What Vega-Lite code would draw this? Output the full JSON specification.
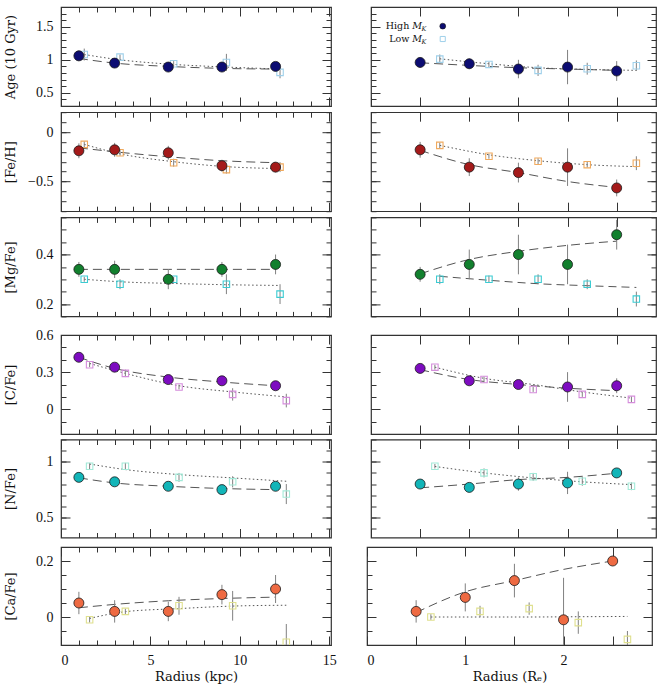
{
  "$schema": "https://vega.github.io/schema/vega-lite/v6.json",
  "background": "white",
  "padding": {"left": 3, "top": 5, "right": 4, "bottom": 4},
  "config": {
    "view": {"stroke": "#333", "strokeWidth": 1.2},
    "axis": {"domain": false, "grid": false, "tickColor": "#333", "tickWidth": 1, "labelFont": "Liberation Serif", "labelFontSize": 14, "labelColor": "#111", "titleFont": "DejaVu Serif", "titleFontSize": 13, "titleFontWeight": "normal", "titleColor": "#111"}
  },
  "datasets": {
    "pts": [
      {"p":"Age","s":"L","g":"H","x":1,"y":1.06,"lo":0.98,"hi":1.14},
      {"p":"Age","s":"L","g":"H","x":3,"y":0.95,"lo":0.91,"hi":0.99},
      {"p":"Age","s":"L","g":"H","x":6,"y":0.89,"lo":0.85,"hi":0.93},
      {"p":"Age","s":"L","g":"H","x":9,"y":0.89,"lo":0.84,"hi":0.94},
      {"p":"Age","s":"L","g":"H","x":12,"y":0.9,"lo":0.85,"hi":0.95},
      {"p":"Age","s":"L","g":"L","x":1.3,"y":1.08,"lo":0.99,"hi":1.17},
      {"p":"Age","s":"L","g":"L","x":3.3,"y":1.04,"lo":1.0,"hi":1.08},
      {"p":"Age","s":"L","g":"L","x":6.3,"y":0.94,"lo":0.9,"hi":0.98},
      {"p":"Age","s":"L","g":"L","x":9.25,"y":0.96,"lo":0.83,"hi":1.09},
      {"p":"Age","s":"L","g":"L","x":12.25,"y":0.81,"lo":0.72,"hi":0.9},
      {"p":"Age","s":"R","g":"H","x":0.5,"y":0.96,"lo":0.88,"hi":1.04},
      {"p":"Age","s":"R","g":"H","x":1,"y":0.94,"lo":0.86,"hi":1.02},
      {"p":"Age","s":"R","g":"H","x":1.5,"y":0.86,"lo":0.72,"hi":1.0},
      {"p":"Age","s":"R","g":"H","x":2,"y":0.89,"lo":0.63,"hi":1.15},
      {"p":"Age","s":"R","g":"H","x":2.5,"y":0.83,"lo":0.68,"hi":0.98},
      {"p":"Age","s":"R","g":"L","x":0.7,"y":1.01,"lo":0.94,"hi":1.08},
      {"p":"Age","s":"R","g":"L","x":1.2,"y":0.93,"lo":0.89,"hi":0.97},
      {"p":"Age","s":"R","g":"L","x":1.7,"y":0.84,"lo":0.755,"hi":0.925},
      {"p":"Age","s":"R","g":"L","x":2.2,"y":0.865,"lo":0.775,"hi":0.955},
      {"p":"Age","s":"R","g":"L","x":2.7,"y":0.91,"lo":0.83,"hi":0.99},

      {"p":"FeH","s":"L","g":"H","x":1,"y":-0.19,"lo":-0.265,"hi":-0.115},
      {"p":"FeH","s":"L","g":"H","x":3,"y":-0.18,"lo":-0.25,"hi":-0.11},
      {"p":"FeH","s":"L","g":"H","x":6,"y":-0.21,"lo":-0.28,"hi":-0.14},
      {"p":"FeH","s":"L","g":"H","x":9,"y":-0.34,"lo":-0.4,"hi":-0.28},
      {"p":"FeH","s":"L","g":"H","x":12,"y":-0.355,"lo":-0.405,"hi":-0.305},
      {"p":"FeH","s":"L","g":"L","x":1.3,"y":-0.125,"lo":-0.155,"hi":-0.095},
      {"p":"FeH","s":"L","g":"L","x":3.3,"y":-0.21,"lo":-0.24,"hi":-0.18},
      {"p":"FeH","s":"L","g":"L","x":6.3,"y":-0.31,"lo":-0.35,"hi":-0.27},
      {"p":"FeH","s":"L","g":"L","x":9.25,"y":-0.38,"lo":-0.42,"hi":-0.34},
      {"p":"FeH","s":"L","g":"L","x":12.25,"y":-0.355,"lo":-0.405,"hi":-0.305},
      {"p":"FeH","s":"R","g":"H","x":0.5,"y":-0.18,"lo":-0.26,"hi":-0.1},
      {"p":"FeH","s":"R","g":"H","x":1,"y":-0.355,"lo":-0.445,"hi":-0.265},
      {"p":"FeH","s":"R","g":"H","x":1.5,"y":-0.41,"lo":-0.51,"hi":-0.31},
      {"p":"FeH","s":"R","g":"H","x":2,"y":-0.355,"lo":-0.545,"hi":-0.165},
      {"p":"FeH","s":"R","g":"H","x":2.5,"y":-0.565,"lo":-0.65,"hi":-0.48},
      {"p":"FeH","s":"R","g":"L","x":0.7,"y":-0.135,"lo":-0.165,"hi":-0.105},
      {"p":"FeH","s":"R","g":"L","x":1.2,"y":-0.245,"lo":-0.27,"hi":-0.22},
      {"p":"FeH","s":"R","g":"L","x":1.7,"y":-0.295,"lo":-0.325,"hi":-0.265},
      {"p":"FeH","s":"R","g":"L","x":2.2,"y":-0.33,"lo":-0.36,"hi":-0.3},
      {"p":"FeH","s":"R","g":"L","x":2.7,"y":-0.315,"lo":-0.385,"hi":-0.245},

      {"p":"MgFe","s":"L","g":"H","x":1,"y":0.34,"lo":0.31,"hi":0.37},
      {"p":"MgFe","s":"L","g":"H","x":3,"y":0.34,"lo":0.305,"hi":0.375},
      {"p":"MgFe","s":"L","g":"H","x":6,"y":0.3,"lo":0.26,"hi":0.34},
      {"p":"MgFe","s":"L","g":"H","x":9,"y":0.34,"lo":0.31,"hi":0.37},
      {"p":"MgFe","s":"L","g":"H","x":12,"y":0.36,"lo":0.32,"hi":0.4},
      {"p":"MgFe","s":"L","g":"L","x":1.3,"y":0.3,"lo":0.29,"hi":0.31},
      {"p":"MgFe","s":"L","g":"L","x":3.3,"y":0.28,"lo":0.26,"hi":0.3},
      {"p":"MgFe","s":"L","g":"L","x":6.3,"y":0.3,"lo":0.29,"hi":0.31},
      {"p":"MgFe","s":"L","g":"L","x":9.25,"y":0.28,"lo":0.24,"hi":0.32},
      {"p":"MgFe","s":"L","g":"L","x":12.25,"y":0.24,"lo":0.2,"hi":0.28},
      {"p":"MgFe","s":"R","g":"H","x":0.5,"y":0.32,"lo":0.29,"hi":0.35},
      {"p":"MgFe","s":"R","g":"H","x":1,"y":0.36,"lo":0.3,"hi":0.42},
      {"p":"MgFe","s":"R","g":"H","x":1.5,"y":0.4,"lo":0.32,"hi":0.48},
      {"p":"MgFe","s":"R","g":"H","x":2,"y":0.36,"lo":0.28,"hi":0.44},
      {"p":"MgFe","s":"R","g":"H","x":2.5,"y":0.48,"lo":0.42,"hi":0.54},
      {"p":"MgFe","s":"R","g":"L","x":0.7,"y":0.3,"lo":0.28,"hi":0.32},
      {"p":"MgFe","s":"R","g":"L","x":1.2,"y":0.3,"lo":0.285,"hi":0.315},
      {"p":"MgFe","s":"R","g":"L","x":1.7,"y":0.3,"lo":0.28,"hi":0.32},
      {"p":"MgFe","s":"R","g":"L","x":2.2,"y":0.28,"lo":0.26,"hi":0.3},
      {"p":"MgFe","s":"R","g":"L","x":2.7,"y":0.22,"lo":0.19,"hi":0.25},

      {"p":"CFe","s":"L","g":"H","x":1,"y":0.42,"lo":0.4,"hi":0.44},
      {"p":"CFe","s":"L","g":"H","x":3,"y":0.34,"lo":0.31,"hi":0.37},
      {"p":"CFe","s":"L","g":"H","x":6,"y":0.24,"lo":0.21,"hi":0.27},
      {"p":"CFe","s":"L","g":"H","x":9,"y":0.23,"lo":0.2,"hi":0.26},
      {"p":"CFe","s":"L","g":"H","x":12,"y":0.19,"lo":0.17,"hi":0.21},
      {"p":"CFe","s":"L","g":"L","x":1.6,"y":0.36,"lo":0.34,"hi":0.38},
      {"p":"CFe","s":"L","g":"L","x":3.6,"y":0.29,"lo":0.26,"hi":0.32},
      {"p":"CFe","s":"L","g":"L","x":6.6,"y":0.18,"lo":0.16,"hi":0.2},
      {"p":"CFe","s":"L","g":"L","x":9.6,"y":0.12,"lo":0.07,"hi":0.17},
      {"p":"CFe","s":"L","g":"L","x":12.6,"y":0.07,"lo":0.015,"hi":0.125},
      {"p":"CFe","s":"R","g":"H","x":0.5,"y":0.33,"lo":0.31,"hi":0.35},
      {"p":"CFe","s":"R","g":"H","x":1,"y":0.23,"lo":0.21,"hi":0.25},
      {"p":"CFe","s":"R","g":"H","x":1.5,"y":0.2,"lo":0.18,"hi":0.22},
      {"p":"CFe","s":"R","g":"H","x":2,"y":0.18,"lo":0.06,"hi":0.3},
      {"p":"CFe","s":"R","g":"H","x":2.5,"y":0.19,"lo":0.13,"hi":0.25},
      {"p":"CFe","s":"R","g":"L","x":0.65,"y":0.34,"lo":0.32,"hi":0.36},
      {"p":"CFe","s":"R","g":"L","x":1.15,"y":0.24,"lo":0.215,"hi":0.265},
      {"p":"CFe","s":"R","g":"L","x":1.65,"y":0.16,"lo":0.14,"hi":0.18},
      {"p":"CFe","s":"R","g":"L","x":2.15,"y":0.12,"lo":0.1,"hi":0.14},
      {"p":"CFe","s":"R","g":"L","x":2.65,"y":0.08,"lo":0.055,"hi":0.105},

      {"p":"NFe","s":"L","g":"H","x":1,"y":0.86,"lo":0.83,"hi":0.89},
      {"p":"NFe","s":"L","g":"H","x":3,"y":0.82,"lo":0.8,"hi":0.84},
      {"p":"NFe","s":"L","g":"H","x":6,"y":0.78,"lo":0.75,"hi":0.81},
      {"p":"NFe","s":"L","g":"H","x":9,"y":0.75,"lo":0.73,"hi":0.77},
      {"p":"NFe","s":"L","g":"H","x":12,"y":0.78,"lo":0.75,"hi":0.81},
      {"p":"NFe","s":"L","g":"L","x":1.6,"y":0.96,"lo":0.93,"hi":0.99},
      {"p":"NFe","s":"L","g":"L","x":3.6,"y":0.96,"lo":0.93,"hi":0.99},
      {"p":"NFe","s":"L","g":"L","x":6.6,"y":0.86,"lo":0.82,"hi":0.9},
      {"p":"NFe","s":"L","g":"L","x":9.6,"y":0.82,"lo":0.77,"hi":0.87},
      {"p":"NFe","s":"L","g":"L","x":12.6,"y":0.71,"lo":0.62,"hi":0.8},
      {"p":"NFe","s":"R","g":"H","x":0.5,"y":0.8,"lo":0.78,"hi":0.82},
      {"p":"NFe","s":"R","g":"H","x":1,"y":0.77,"lo":0.75,"hi":0.79},
      {"p":"NFe","s":"R","g":"H","x":1.5,"y":0.8,"lo":0.74,"hi":0.86},
      {"p":"NFe","s":"R","g":"H","x":2,"y":0.81,"lo":0.71,"hi":0.91},
      {"p":"NFe","s":"R","g":"H","x":2.5,"y":0.9,"lo":0.88,"hi":0.92},
      {"p":"NFe","s":"R","g":"L","x":0.65,"y":0.96,"lo":0.94,"hi":0.98},
      {"p":"NFe","s":"R","g":"L","x":1.15,"y":0.9,"lo":0.86,"hi":0.94},
      {"p":"NFe","s":"R","g":"L","x":1.65,"y":0.865,"lo":0.83,"hi":0.9},
      {"p":"NFe","s":"R","g":"L","x":2.15,"y":0.825,"lo":0.785,"hi":0.865},
      {"p":"NFe","s":"R","g":"L","x":2.65,"y":0.78,"lo":0.745,"hi":0.815},

      {"p":"CaFe","s":"L","g":"H","x":1,"y":0.05,"lo":0.01,"hi":0.09},
      {"p":"CaFe","s":"L","g":"H","x":3,"y":0.02,"lo":-0.02,"hi":0.06},
      {"p":"CaFe","s":"L","g":"H","x":6,"y":0.02,"lo":-0.015,"hi":0.055},
      {"p":"CaFe","s":"L","g":"H","x":9,"y":0.08,"lo":0.045,"hi":0.115},
      {"p":"CaFe","s":"L","g":"H","x":12,"y":0.1,"lo":0.05,"hi":0.15},
      {"p":"CaFe","s":"L","g":"L","x":1.6,"y":-0.01,"lo":-0.02,"hi":0.0},
      {"p":"CaFe","s":"L","g":"L","x":3.6,"y":0.02,"lo":0.01,"hi":0.03},
      {"p":"CaFe","s":"L","g":"L","x":6.6,"y":0.04,"lo":0.008,"hi":0.072},
      {"p":"CaFe","s":"L","g":"L","x":9.6,"y":0.04,"lo":-0.013,"hi":0.093},
      {"p":"CaFe","s":"L","g":"L","x":12.6,"y":-0.09,"lo":-0.155,"hi":-0.025},
      {"p":"CaFe","s":"R","g":"H","x":0.5,"y":0.02,"lo":-0.02,"hi":0.06},
      {"p":"CaFe","s":"R","g":"H","x":1,"y":0.07,"lo":0.02,"hi":0.12},
      {"p":"CaFe","s":"R","g":"H","x":1.5,"y":0.13,"lo":0.07,"hi":0.19},
      {"p":"CaFe","s":"R","g":"H","x":2,"y":-0.01,"lo":-0.16,"hi":0.14},
      {"p":"CaFe","s":"R","g":"H","x":2.5,"y":0.2,"lo":0.185,"hi":0.215},
      {"p":"CaFe","s":"R","g":"L","x":0.65,"y":0.0,"lo":-0.01,"hi":0.01},
      {"p":"CaFe","s":"R","g":"L","x":1.15,"y":0.02,"lo":0.0,"hi":0.04},
      {"p":"CaFe","s":"R","g":"L","x":1.65,"y":0.03,"lo":0.008,"hi":0.052},
      {"p":"CaFe","s":"R","g":"L","x":2.15,"y":-0.02,"lo":-0.06,"hi":0.02},
      {"p":"CaFe","s":"R","g":"L","x":2.65,"y":-0.08,"lo":-0.11,"hi":-0.05}
    ],
    "fits": [
      {"p":"Age","s":"L","g":"H","x":1,"y":1.02},{"p":"Age","s":"L","g":"H","x":3,"y":0.95},{"p":"Age","s":"L","g":"H","x":6,"y":0.9},{"p":"Age","s":"L","g":"H","x":9,"y":0.87},{"p":"Age","s":"L","g":"H","x":12,"y":0.86},
      {"p":"Age","s":"L","g":"L","x":1.3,"y":1.08},{"p":"Age","s":"L","g":"L","x":3.3,"y":1.0},{"p":"Age","s":"L","g":"L","x":6.3,"y":0.93},{"p":"Age","s":"L","g":"L","x":9.25,"y":0.89},{"p":"Age","s":"L","g":"L","x":12.25,"y":0.86},
      {"p":"Age","s":"R","g":"H","x":0.5,"y":0.955},{"p":"Age","s":"R","g":"H","x":1,"y":0.915},{"p":"Age","s":"R","g":"H","x":1.5,"y":0.88},{"p":"Age","s":"R","g":"H","x":2,"y":0.86},{"p":"Age","s":"R","g":"H","x":2.5,"y":0.84},
      {"p":"Age","s":"R","g":"L","x":0.7,"y":1.015},{"p":"Age","s":"R","g":"L","x":1.2,"y":0.94},{"p":"Age","s":"R","g":"L","x":1.7,"y":0.88},{"p":"Age","s":"R","g":"L","x":2.2,"y":0.855},{"p":"Age","s":"R","g":"L","x":2.7,"y":0.84},
      {"p":"FeH","s":"L","g":"H","x":1,"y":-0.16},{"p":"FeH","s":"L","g":"H","x":3,"y":-0.2},{"p":"FeH","s":"L","g":"H","x":6,"y":-0.25},{"p":"FeH","s":"L","g":"H","x":9,"y":-0.29},{"p":"FeH","s":"L","g":"H","x":12,"y":-0.31},
      {"p":"FeH","s":"L","g":"L","x":1.3,"y":-0.125},{"p":"FeH","s":"L","g":"L","x":3.3,"y":-0.22},{"p":"FeH","s":"L","g":"L","x":6.3,"y":-0.3},{"p":"FeH","s":"L","g":"L","x":9.25,"y":-0.35},{"p":"FeH","s":"L","g":"L","x":12.25,"y":-0.37},
      {"p":"FeH","s":"R","g":"H","x":0.5,"y":-0.185},{"p":"FeH","s":"R","g":"H","x":1,"y":-0.33},{"p":"FeH","s":"R","g":"H","x":1.5,"y":-0.41},{"p":"FeH","s":"R","g":"H","x":2,"y":-0.5},{"p":"FeH","s":"R","g":"H","x":2.5,"y":-0.56},
      {"p":"FeH","s":"R","g":"L","x":0.7,"y":-0.135},{"p":"FeH","s":"R","g":"L","x":1.2,"y":-0.23},{"p":"FeH","s":"R","g":"L","x":1.7,"y":-0.29},{"p":"FeH","s":"R","g":"L","x":2.2,"y":-0.33},{"p":"FeH","s":"R","g":"L","x":2.7,"y":-0.35},
      {"p":"MgFe","s":"L","g":"H","x":1,"y":0.34},{"p":"MgFe","s":"L","g":"H","x":3,"y":0.34},{"p":"MgFe","s":"L","g":"H","x":6,"y":0.34},{"p":"MgFe","s":"L","g":"H","x":9,"y":0.34},{"p":"MgFe","s":"L","g":"H","x":12,"y":0.34},
      {"p":"MgFe","s":"L","g":"L","x":1.3,"y":0.3},{"p":"MgFe","s":"L","g":"L","x":3.3,"y":0.29},{"p":"MgFe","s":"L","g":"L","x":6.3,"y":0.283},{"p":"MgFe","s":"L","g":"L","x":9.25,"y":0.278},{"p":"MgFe","s":"L","g":"L","x":12.25,"y":0.275},
      {"p":"MgFe","s":"R","g":"H","x":0.5,"y":0.322},{"p":"MgFe","s":"R","g":"H","x":1,"y":0.38},{"p":"MgFe","s":"R","g":"H","x":1.5,"y":0.413},{"p":"MgFe","s":"R","g":"H","x":2,"y":0.437},{"p":"MgFe","s":"R","g":"H","x":2.5,"y":0.454},
      {"p":"MgFe","s":"R","g":"L","x":0.7,"y":0.312},{"p":"MgFe","s":"R","g":"L","x":1.2,"y":0.296},{"p":"MgFe","s":"R","g":"L","x":1.7,"y":0.282},{"p":"MgFe","s":"R","g":"L","x":2.2,"y":0.274},{"p":"MgFe","s":"R","g":"L","x":2.7,"y":0.267},
      {"p":"CFe","s":"L","g":"H","x":1,"y":0.42},{"p":"CFe","s":"L","g":"H","x":3,"y":0.33},{"p":"CFe","s":"L","g":"H","x":6,"y":0.26},{"p":"CFe","s":"L","g":"H","x":9,"y":0.22},{"p":"CFe","s":"L","g":"H","x":12,"y":0.19},
      {"p":"CFe","s":"L","g":"L","x":1.6,"y":0.37},{"p":"CFe","s":"L","g":"L","x":3.6,"y":0.29},{"p":"CFe","s":"L","g":"L","x":6.6,"y":0.19},{"p":"CFe","s":"L","g":"L","x":9.6,"y":0.14},{"p":"CFe","s":"L","g":"L","x":12.6,"y":0.1},
      {"p":"CFe","s":"R","g":"H","x":0.5,"y":0.32},{"p":"CFe","s":"R","g":"H","x":1,"y":0.24},{"p":"CFe","s":"R","g":"H","x":1.5,"y":0.2},{"p":"CFe","s":"R","g":"H","x":2,"y":0.17},{"p":"CFe","s":"R","g":"H","x":2.5,"y":0.15},
      {"p":"CFe","s":"R","g":"L","x":0.65,"y":0.34},{"p":"CFe","s":"R","g":"L","x":1.15,"y":0.25},{"p":"CFe","s":"R","g":"L","x":1.65,"y":0.2},{"p":"CFe","s":"R","g":"L","x":2.15,"y":0.14},{"p":"CFe","s":"R","g":"L","x":2.65,"y":0.09},
      {"p":"NFe","s":"L","g":"H","x":1,"y":0.856},{"p":"NFe","s":"L","g":"H","x":3,"y":0.81},{"p":"NFe","s":"L","g":"H","x":6,"y":0.78},{"p":"NFe","s":"L","g":"H","x":9,"y":0.76},{"p":"NFe","s":"L","g":"H","x":12,"y":0.75},
      {"p":"NFe","s":"L","g":"L","x":1.6,"y":0.98},{"p":"NFe","s":"L","g":"L","x":3.6,"y":0.93},{"p":"NFe","s":"L","g":"L","x":6.6,"y":0.885},{"p":"NFe","s":"L","g":"L","x":9.6,"y":0.855},{"p":"NFe","s":"L","g":"L","x":12.6,"y":0.825},
      {"p":"NFe","s":"R","g":"H","x":0.5,"y":0.766},{"p":"NFe","s":"R","g":"H","x":1,"y":0.8},{"p":"NFe","s":"R","g":"H","x":1.5,"y":0.84},{"p":"NFe","s":"R","g":"H","x":2,"y":0.86},{"p":"NFe","s":"R","g":"H","x":2.5,"y":0.897},
      {"p":"NFe","s":"R","g":"L","x":0.65,"y":0.958},{"p":"NFe","s":"R","g":"L","x":1.15,"y":0.9},{"p":"NFe","s":"R","g":"L","x":1.65,"y":0.855},{"p":"NFe","s":"R","g":"L","x":2.15,"y":0.82},{"p":"NFe","s":"R","g":"L","x":2.65,"y":0.795},
      {"p":"CaFe","s":"L","g":"H","x":1,"y":0.033},{"p":"CaFe","s":"L","g":"H","x":3,"y":0.045},{"p":"CaFe","s":"L","g":"H","x":6,"y":0.058},{"p":"CaFe","s":"L","g":"H","x":9,"y":0.066},{"p":"CaFe","s":"L","g":"H","x":12,"y":0.071},
      {"p":"CaFe","s":"L","g":"L","x":1.6,"y":-0.005},{"p":"CaFe","s":"L","g":"L","x":3.6,"y":0.019},{"p":"CaFe","s":"L","g":"L","x":6.6,"y":0.03},{"p":"CaFe","s":"L","g":"L","x":9.6,"y":0.039},{"p":"CaFe","s":"L","g":"L","x":12.6,"y":0.042},
      {"p":"CaFe","s":"R","g":"H","x":0.5,"y":0.016},{"p":"CaFe","s":"R","g":"H","x":1,"y":0.09},{"p":"CaFe","s":"R","g":"H","x":1.5,"y":0.13},{"p":"CaFe","s":"R","g":"H","x":2,"y":0.17},{"p":"CaFe","s":"R","g":"H","x":2.5,"y":0.2},
      {"p":"CaFe","s":"R","g":"L","x":0.65,"y":0.0},{"p":"CaFe","s":"R","g":"L","x":1.15,"y":0.0},{"p":"CaFe","s":"R","g":"L","x":1.65,"y":0.0},{"p":"CaFe","s":"R","g":"L","x":2.15,"y":0.001},{"p":"CaFe","s":"R","g":"L","x":2.65,"y":0.002}
    ]
  },
  "spacing": 9,
  "vconcat": [
    {
      "spacing": 2.2,
      "vconcat": [
        {
          "spacing": 36,
          "hconcat": [
            {
              "width": 270, "height": 99,
              "layer": [
                {"data": {"name": "fits"}, "transform": [{"filter": "datum.p=='Age'&&datum.s=='L'&&datum.g=='H'"}],
                 "mark": {"type": "line", "color": "#555", "strokeWidth": 1, "strokeDash": [9, 5], "interpolate": "monotone", "clip": true},
                 "encoding": {"x": {"field": "x", "type": "quantitative", "scale": {"domain": [0, 15.1], "nice": false}, "axis": {"orient": "bottom", "values": [0,1,2,3,4,5,6,7,8,9,10,11,12,13,14,15], "tickSize": -5, "labels": false, "title": null}},
                              "y": {"field": "y", "type": "quantitative", "scale": {"domain": [0.3, 1.8], "nice": false}, "axis": {"orient": "left", "values": [0.3,0.4,0.5,0.6,0.7,0.8,0.9,1,1.1,1.2,1.3,1.4,1.5,1.6,1.7,1.8], "tickSize": -5, "labels": false, "title": null}}}},
                {"data": {"name": "fits"}, "transform": [{"filter": "datum.p=='Age'&&datum.s=='L'&&datum.g=='L'"}],
                 "mark": {"type": "line", "color": "#555", "strokeWidth": 1, "strokeDash": [1.5, 2.5], "interpolate": "monotone", "clip": true},
                 "encoding": {"x": {"field": "x", "type": "quantitative", "scale": {"domain": [0, 15.1], "nice": false}, "axis": {"orient": "top", "values": [0,1,2,3,4,5,6,7,8,9,10,11,12,13,14,15], "tickSize": -5, "labels": false, "title": null}},
                              "y": {"field": "y", "type": "quantitative", "scale": {"domain": [0.3, 1.8], "nice": false}, "axis": {"orient": "right", "values": [0.3,0.4,0.5,0.6,0.7,0.8,0.9,1,1.1,1.2,1.3,1.4,1.5,1.6,1.7,1.8], "tickSize": -5, "labels": false, "title": null}}}},
                {"data": {"name": "pts"}, "transform": [{"filter": "datum.p=='Age'&&datum.s=='L'"}],
                 "mark": {"type": "rule", "color": "#808080", "strokeWidth": 1, "clip": true},
                 "encoding": {"x": {"field": "x", "type": "quantitative", "scale": {"domain": [0, 15.1], "nice": false}, "axis": {"orient": "top", "values": [0,5,10,15], "tickSize": -9, "labels": false, "title": null}},
                              "y": {"field": "lo", "type": "quantitative", "scale": {"domain": [0.3, 1.8], "nice": false}, "axis": {"orient": "right", "values": [0.5,1,1.5], "tickSize": -9, "labels": false, "title": null}},
                              "y2": {"field": "hi"}}},
                {"data": {"name": "pts"}, "transform": [{"filter": "datum.p=='Age'&&datum.s=='L'&&datum.g=='L'"}],
                 "mark": {"type": "square", "filled": false, "color": "#9fd0ea", "size": 42, "strokeWidth": 1.1, "opacity": 1, "clip": true},
                 "encoding": {"x": {"field": "x", "type": "quantitative", "scale": {"domain": [0, 15.1], "nice": false}, "axis": {"orient": "bottom", "values": [0,5,10,15], "tickSize": -9, "labels": false, "title": null}},
                              "y": {"field": "y", "type": "quantitative", "scale": {"domain": [0.3, 1.8], "nice": false}, "axis": {"orient": "left", "values": [0.5,1,1.5], "tickSize": -9, "labels": false, "title": null}}}},
                {"data": {"name": "pts"}, "transform": [{"filter": "datum.p=='Age'&&datum.s=='L'&&datum.g=='H'"}],
                 "mark": {"type": "circle", "fill": "#0c0c72", "stroke": "#1a1a1a", "strokeWidth": 0.8, "size": 100, "opacity": 1, "clip": true},
                 "encoding": {"x": {"field": "x", "type": "quantitative", "scale": {"domain": [0, 15.1], "nice": false}, "axis": null},
                              "y": {"field": "y", "type": "quantitative", "scale": {"domain": [0.3, 1.8], "nice": false}, "axis": {"orient": "left", "values": [0.5,1,1.5], "ticks": false, "labelPadding": 8, "format": "~g", "title": "Age (10 Gyr)", "titlePadding": 8, "minExtent": 36, "maxExtent": 36}}}}
              ],
              "resolve": {"axis": {"x": "independent", "y": "independent"}}
            },
            {
              "width": 285, "height": 99,
              "layer": [
                {"data": {"name": "fits"}, "transform": [{"filter": "datum.p=='Age'&&datum.s=='R'&&datum.g=='H'"}],
                 "mark": {"type": "line", "color": "#555", "strokeWidth": 1, "strokeDash": [9, 5], "interpolate": "monotone", "clip": true},
                 "encoding": {"x": {"field": "x", "type": "quantitative", "scale": {"domain": [0, 2.9], "nice": false}, "axis": null},
                              "y": {"field": "y", "type": "quantitative", "scale": {"domain": [0.3, 1.8], "nice": false}, "axis": {"orient": "left", "values": [0.3,0.4,0.5,0.6,0.7,0.8,0.9,1,1.1,1.2,1.3,1.4,1.5,1.6,1.7,1.8], "tickSize": -5, "labels": false, "title": null}}}},
                {"data": {"name": "fits"}, "transform": [{"filter": "datum.p=='Age'&&datum.s=='R'&&datum.g=='L'"}],
                 "mark": {"type": "line", "color": "#555", "strokeWidth": 1, "strokeDash": [1.5, 2.5], "interpolate": "monotone", "clip": true},
                 "encoding": {"x": {"field": "x", "type": "quantitative", "scale": {"domain": [0, 2.9], "nice": false}, "axis": null},
                              "y": {"field": "y", "type": "quantitative", "scale": {"domain": [0.3, 1.8], "nice": false}, "axis": {"orient": "right", "values": [0.3,0.4,0.5,0.6,0.7,0.8,0.9,1,1.1,1.2,1.3,1.4,1.5,1.6,1.7,1.8], "tickSize": -5, "labels": false, "title": null}}}},
                {"data": {"name": "pts"}, "transform": [{"filter": "datum.p=='Age'&&datum.s=='R'"}],
                 "mark": {"type": "rule", "color": "#808080", "strokeWidth": 1, "clip": true},
                 "encoding": {"x": {"field": "x", "type": "quantitative", "scale": {"domain": [0, 2.9], "nice": false}, "axis": {"orient": "top", "values": [0,0.5,1,1.5,2,2.5], "tickSize": -9, "labels": false, "title": null}},
                              "y": {"field": "lo", "type": "quantitative", "scale": {"domain": [0.3, 1.8], "nice": false}, "axis": {"orient": "right", "values": [0.5,1,1.5], "tickSize": -9, "labels": false, "title": null}},
                              "y2": {"field": "hi"}}},
                {"data": {"name": "pts"}, "transform": [{"filter": "datum.p=='Age'&&datum.s=='R'&&datum.g=='L'"}],
                 "mark": {"type": "square", "filled": false, "color": "#9fd0ea", "size": 42, "strokeWidth": 1.1, "opacity": 1, "clip": true},
                 "encoding": {"x": {"field": "x", "type": "quantitative", "scale": {"domain": [0, 2.9], "nice": false}, "axis": {"orient": "bottom", "values": [0,0.5,1,1.5,2,2.5], "tickSize": -9, "labels": false, "title": null}},
                              "y": {"field": "y", "type": "quantitative", "scale": {"domain": [0.3, 1.8], "nice": false}, "axis": {"orient": "left", "values": [0.5,1,1.5], "tickSize": -9, "labels": false, "title": null}}}},
                {"data": {"name": "pts"}, "transform": [{"filter": "datum.p=='Age'&&datum.s=='R'&&datum.g=='H'"}],
                 "mark": {"type": "circle", "fill": "#0c0c72", "stroke": "#1a1a1a", "strokeWidth": 0.8, "size": 100, "opacity": 1, "clip": true},
                 "encoding": {"x": {"field": "x", "type": "quantitative", "scale": {"domain": [0, 2.9], "nice": false}, "axis": null},
                              "y": {"field": "y", "type": "quantitative", "scale": {"domain": [0.3, 1.8], "nice": false}, "axis": null}}},
                {"data": {"values": [{}]},
                 "mark": {"type": "text", "text": "High", "align": "right", "baseline": "middle", "font": "DejaVu Serif", "fontSize": 9.5, "color": "#111"},
                 "encoding": {"x": {"datum": 0.39, "type": "quantitative", "scale": {"domain": [0, 2.9], "nice": false}, "axis": null},
                              "y": {"datum": 1.51, "type": "quantitative", "scale": {"domain": [0.3, 1.8], "nice": false}, "axis": null}}},
                {"data": {"values": [{}]},
                 "mark": {"type": "text", "text": "M", "align": "left", "baseline": "middle", "font": "DejaVu Serif", "fontStyle": "italic", "fontSize": 9.5, "color": "#111"},
                 "encoding": {"x": {"datum": 0.42, "type": "quantitative", "scale": {"domain": [0, 2.9], "nice": false}, "axis": null},
                              "y": {"datum": 1.51, "type": "quantitative", "scale": {"domain": [0.3, 1.8], "nice": false}, "axis": null}}},
                {"data": {"values": [{}]},
                 "mark": {"type": "text", "text": "K", "align": "left", "baseline": "middle", "dy": 3, "font": "DejaVu Serif", "fontStyle": "italic", "fontSize": 6.5, "color": "#111"},
                 "encoding": {"x": {"datum": 0.515, "type": "quantitative", "scale": {"domain": [0, 2.9], "nice": false}, "axis": null},
                              "y": {"datum": 1.51, "type": "quantitative", "scale": {"domain": [0.3, 1.8], "nice": false}, "axis": null}}},
                {"data": {"values": [{}]},
                 "mark": {"type": "text", "text": "Low", "align": "right", "baseline": "middle", "font": "DejaVu Serif", "fontSize": 9.5, "color": "#111"},
                 "encoding": {"x": {"datum": 0.39, "type": "quantitative", "scale": {"domain": [0, 2.9], "nice": false}, "axis": null},
                              "y": {"datum": 1.315, "type": "quantitative", "scale": {"domain": [0.3, 1.8], "nice": false}, "axis": null}}},
                {"data": {"values": [{}]},
                 "mark": {"type": "text", "text": "M", "align": "left", "baseline": "middle", "font": "DejaVu Serif", "fontStyle": "italic", "fontSize": 9.5, "color": "#111"},
                 "encoding": {"x": {"datum": 0.42, "type": "quantitative", "scale": {"domain": [0, 2.9], "nice": false}, "axis": null},
                              "y": {"datum": 1.315, "type": "quantitative", "scale": {"domain": [0.3, 1.8], "nice": false}, "axis": null}}},
                {"data": {"values": [{}]},
                 "mark": {"type": "text", "text": "K", "align": "left", "baseline": "middle", "dy": 3, "font": "DejaVu Serif", "fontStyle": "italic", "fontSize": 6.5, "color": "#111"},
                 "encoding": {"x": {"datum": 0.515, "type": "quantitative", "scale": {"domain": [0, 2.9], "nice": false}, "axis": null},
                              "y": {"datum": 1.315, "type": "quantitative", "scale": {"domain": [0.3, 1.8], "nice": false}, "axis": null}}},
                {"data": {"values": [{}]},
                 "mark": {"type": "circle", "fill": "#0c0c72", "stroke": "#1a1a1a", "strokeWidth": 0.6, "size": 34, "opacity": 1},
                 "encoding": {"x": {"datum": 0.73, "type": "quantitative", "scale": {"domain": [0, 2.9], "nice": false}, "axis": null},
                              "y": {"datum": 1.51, "type": "quantitative", "scale": {"domain": [0.3, 1.8], "nice": false}, "axis": null}}},
                {"data": {"values": [{}]},
                 "mark": {"type": "square", "filled": false, "color": "#9fd0ea", "size": 26, "strokeWidth": 1, "opacity": 1},
                 "encoding": {"x": {"datum": 0.73, "type": "quantitative", "scale": {"domain": [0, 2.9], "nice": false}, "axis": null},
                              "y": {"datum": 1.315, "type": "quantitative", "scale": {"domain": [0.3, 1.8], "nice": false}, "axis": null}}}
              ],
              "resolve": {"axis": {"x": "independent", "y": "independent"}}
            }
          ]
        },
        {
          "spacing": 36,
          "hconcat": [
            {
              "width": 270, "height": 99,
              "layer": [
                {"data": {"name": "fits"}, "transform": [{"filter": "datum.p=='FeH'&&datum.s=='L'&&datum.g=='H'"}],
                 "mark": {"type": "line", "color": "#555", "strokeWidth": 1, "strokeDash": [9, 5], "interpolate": "monotone", "clip": true},
                 "encoding": {"x": {"field": "x", "type": "quantitative", "scale": {"domain": [0, 15.1], "nice": false}, "axis": {"orient": "bottom", "values": [0,1,2,3,4,5,6,7,8,9,10,11,12,13,14,15], "tickSize": -5, "labels": false, "title": null}},
                              "y": {"field": "y", "type": "quantitative", "scale": {"domain": [-0.8, 0.2], "nice": false}, "axis": {"orient": "left", "values": [-0.8,-0.7,-0.6,-0.5,-0.4,-0.3,-0.2,-0.1,0,0.1,0.2], "tickSize": -5, "labels": false, "title": null}}}},
                {"data": {"name": "fits"}, "transform": [{"filter": "datum.p=='FeH'&&datum.s=='L'&&datum.g=='L'"}],
                 "mark": {"type": "line", "color": "#555", "strokeWidth": 1, "strokeDash": [1.5, 2.5], "interpolate": "monotone", "clip": true},
                 "encoding": {"x": {"field": "x", "type": "quantitative", "scale": {"domain": [0, 15.1], "nice": false}, "axis": {"orient": "top", "values": [0,1,2,3,4,5,6,7,8,9,10,11,12,13,14,15], "tickSize": -5, "labels": false, "title": null}},
                              "y": {"field": "y", "type": "quantitative", "scale": {"domain": [-0.8, 0.2], "nice": false}, "axis": {"orient": "right", "values": [-0.8,-0.7,-0.6,-0.5,-0.4,-0.3,-0.2,-0.1,0,0.1,0.2], "tickSize": -5, "labels": false, "title": null}}}},
                {"data": {"name": "pts"}, "transform": [{"filter": "datum.p=='FeH'&&datum.s=='L'"}],
                 "mark": {"type": "rule", "color": "#808080", "strokeWidth": 1, "clip": true},
                 "encoding": {"x": {"field": "x", "type": "quantitative", "scale": {"domain": [0, 15.1], "nice": false}, "axis": {"orient": "top", "values": [0,5,10,15], "tickSize": -9, "labels": false, "title": null}},
                              "y": {"field": "lo", "type": "quantitative", "scale": {"domain": [-0.8, 0.2], "nice": false}, "axis": {"orient": "right", "values": [-0.5,0], "tickSize": -9, "labels": false, "title": null}},
                              "y2": {"field": "hi"}}},
                {"data": {"name": "pts"}, "transform": [{"filter": "datum.p=='FeH'&&datum.s=='L'&&datum.g=='L'"}],
                 "mark": {"type": "square", "filled": false, "color": "#f0aa5e", "size": 42, "strokeWidth": 1.1, "opacity": 1, "clip": true},
                 "encoding": {"x": {"field": "x", "type": "quantitative", "scale": {"domain": [0, 15.1], "nice": false}, "axis": {"orient": "bottom", "values": [0,5,10,15], "tickSize": -9, "labels": false, "title": null}},
                              "y": {"field": "y", "type": "quantitative", "scale": {"domain": [-0.8, 0.2], "nice": false}, "axis": {"orient": "left", "values": [-0.5,0], "tickSize": -9, "labels": false, "title": null}}}},
                {"data": {"name": "pts"}, "transform": [{"filter": "datum.p=='FeH'&&datum.s=='L'&&datum.g=='H'"}],
                 "mark": {"type": "circle", "fill": "#a41a1a", "stroke": "#1a1a1a", "strokeWidth": 0.8, "size": 100, "opacity": 1, "clip": true},
                 "encoding": {"x": {"field": "x", "type": "quantitative", "scale": {"domain": [0, 15.1], "nice": false}, "axis": null},
                              "y": {"field": "y", "type": "quantitative", "scale": {"domain": [-0.8, 0.2], "nice": false}, "axis": {"orient": "left", "values": [-0.5,0], "ticks": false, "labelPadding": 8, "format": "~g", "title": "[Fe/H]", "titlePadding": 8, "minExtent": 36, "maxExtent": 36}}}}
              ],
              "resolve": {"axis": {"x": "independent", "y": "independent"}}
            },
            {
              "width": 285, "height": 99,
              "layer": [
                {"data": {"name": "fits"}, "transform": [{"filter": "datum.p=='FeH'&&datum.s=='R'&&datum.g=='H'"}],
                 "mark": {"type": "line", "color": "#555", "strokeWidth": 1, "strokeDash": [9, 5], "interpolate": "monotone", "clip": true},
                 "encoding": {"x": {"field": "x", "type": "quantitative", "scale": {"domain": [0, 2.9], "nice": false}, "axis": null},
                              "y": {"field": "y", "type": "quantitative", "scale": {"domain": [-0.8, 0.2], "nice": false}, "axis": {"orient": "left", "values": [-0.8,-0.7,-0.6,-0.5,-0.4,-0.3,-0.2,-0.1,0,0.1,0.2], "tickSize": -5, "labels": false, "title": null}}}},
                {"data": {"name": "fits"}, "transform": [{"filter": "datum.p=='FeH'&&datum.s=='R'&&datum.g=='L'"}],
                 "mark": {"type": "line", "color": "#555", "strokeWidth": 1, "strokeDash": [1.5, 2.5], "interpolate": "monotone", "clip": true},
                 "encoding": {"x": {"field": "x", "type": "quantitative", "scale": {"domain": [0, 2.9], "nice": false}, "axis": null},
                              "y": {"field": "y", "type": "quantitative", "scale": {"domain": [-0.8, 0.2], "nice": false}, "axis": {"orient": "right", "values": [-0.8,-0.7,-0.6,-0.5,-0.4,-0.3,-0.2,-0.1,0,0.1,0.2], "tickSize": -5, "labels": false, "title": null}}}},
                {"data": {"name": "pts"}, "transform": [{"filter": "datum.p=='FeH'&&datum.s=='R'"}],
                 "mark": {"type": "rule", "color": "#808080", "strokeWidth": 1, "clip": true},
                 "encoding": {"x": {"field": "x", "type": "quantitative", "scale": {"domain": [0, 2.9], "nice": false}, "axis": {"orient": "top", "values": [0,0.5,1,1.5,2,2.5], "tickSize": -9, "labels": false, "title": null}},
                              "y": {"field": "lo", "type": "quantitative", "scale": {"domain": [-0.8, 0.2], "nice": false}, "axis": {"orient": "right", "values": [-0.5,0], "tickSize": -9, "labels": false, "title": null}},
                              "y2": {"field": "hi"}}},
                {"data": {"name": "pts"}, "transform": [{"filter": "datum.p=='FeH'&&datum.s=='R'&&datum.g=='L'"}],
                 "mark": {"type": "square", "filled": false, "color": "#f0aa5e", "size": 42, "strokeWidth": 1.1, "opacity": 1, "clip": true},
                 "encoding": {"x": {"field": "x", "type": "quantitative", "scale": {"domain": [0, 2.9], "nice": false}, "axis": {"orient": "bottom", "values": [0,0.5,1,1.5,2,2.5], "tickSize": -9, "labels": false, "title": null}},
                              "y": {"field": "y", "type": "quantitative", "scale": {"domain": [-0.8, 0.2], "nice": false}, "axis": {"orient": "left", "values": [-0.5,0], "tickSize": -9, "labels": false, "title": null}}}},
                {"data": {"name": "pts"}, "transform": [{"filter": "datum.p=='FeH'&&datum.s=='R'&&datum.g=='H'"}],
                 "mark": {"type": "circle", "fill": "#a41a1a", "stroke": "#1a1a1a", "strokeWidth": 0.8, "size": 100, "opacity": 1, "clip": true},
                 "encoding": {"x": {"field": "x", "type": "quantitative", "scale": {"domain": [0, 2.9], "nice": false}, "axis": null},
                              "y": {"field": "y", "type": "quantitative", "scale": {"domain": [-0.8, 0.2], "nice": false}, "axis": null}}}
              ],
              "resolve": {"axis": {"x": "independent", "y": "independent"}}
            }
          ]
        },
        {
          "spacing": 36,
          "hconcat": [
            {
              "width": 270, "height": 99,
              "layer": [
                {"data": {"name": "fits"}, "transform": [{"filter": "datum.p=='MgFe'&&datum.s=='L'&&datum.g=='H'"}],
                 "mark": {"type": "line", "color": "#555", "strokeWidth": 1, "strokeDash": [9, 5], "interpolate": "monotone", "clip": true},
                 "encoding": {"x": {"field": "x", "type": "quantitative", "scale": {"domain": [0, 15.1], "nice": false}, "axis": {"orient": "bottom", "values": [0,1,2,3,4,5,6,7,8,9,10,11,12,13,14,15], "tickSize": -5, "labels": false, "title": null}},
                              "y": {"field": "y", "type": "quantitative", "scale": {"domain": [0.15, 0.55], "nice": false}, "axis": {"orient": "left", "values": [0.15,0.2,0.25,0.3,0.35,0.4,0.45,0.5,0.55], "tickSize": -5, "labels": false, "title": null}}}},
                {"data": {"name": "fits"}, "transform": [{"filter": "datum.p=='MgFe'&&datum.s=='L'&&datum.g=='L'"}],
                 "mark": {"type": "line", "color": "#555", "strokeWidth": 1, "strokeDash": [1.5, 2.5], "interpolate": "monotone", "clip": true},
                 "encoding": {"x": {"field": "x", "type": "quantitative", "scale": {"domain": [0, 15.1], "nice": false}, "axis": {"orient": "top", "values": [0,1,2,3,4,5,6,7,8,9,10,11,12,13,14,15], "tickSize": -5, "labels": false, "title": null}},
                              "y": {"field": "y", "type": "quantitative", "scale": {"domain": [0.15, 0.55], "nice": false}, "axis": {"orient": "right", "values": [0.15,0.2,0.25,0.3,0.35,0.4,0.45,0.5,0.55], "tickSize": -5, "labels": false, "title": null}}}},
                {"data": {"name": "pts"}, "transform": [{"filter": "datum.p=='MgFe'&&datum.s=='L'"}],
                 "mark": {"type": "rule", "color": "#808080", "strokeWidth": 1, "clip": true},
                 "encoding": {"x": {"field": "x", "type": "quantitative", "scale": {"domain": [0, 15.1], "nice": false}, "axis": {"orient": "top", "values": [0,5,10,15], "tickSize": -9, "labels": false, "title": null}},
                              "y": {"field": "lo", "type": "quantitative", "scale": {"domain": [0.15, 0.55], "nice": false}, "axis": {"orient": "right", "values": [0.2,0.4], "tickSize": -9, "labels": false, "title": null}},
                              "y2": {"field": "hi"}}},
                {"data": {"name": "pts"}, "transform": [{"filter": "datum.p=='MgFe'&&datum.s=='L'&&datum.g=='L'"}],
                 "mark": {"type": "square", "filled": false, "color": "#3ccbd2", "size": 42, "strokeWidth": 1.1, "opacity": 1, "clip": true},
                 "encoding": {"x": {"field": "x", "type": "quantitative", "scale": {"domain": [0, 15.1], "nice": false}, "axis": {"orient": "bottom", "values": [0,5,10,15], "tickSize": -9, "labels": false, "title": null}},
                              "y": {"field": "y", "type": "quantitative", "scale": {"domain": [0.15, 0.55], "nice": false}, "axis": {"orient": "left", "values": [0.2,0.4], "tickSize": -9, "labels": false, "title": null}}}},
                {"data": {"name": "pts"}, "transform": [{"filter": "datum.p=='MgFe'&&datum.s=='L'&&datum.g=='H'"}],
                 "mark": {"type": "circle", "fill": "#12802e", "stroke": "#1a1a1a", "strokeWidth": 0.8, "size": 100, "opacity": 1, "clip": true},
                 "encoding": {"x": {"field": "x", "type": "quantitative", "scale": {"domain": [0, 15.1], "nice": false}, "axis": null},
                              "y": {"field": "y", "type": "quantitative", "scale": {"domain": [0.15, 0.55], "nice": false}, "axis": {"orient": "left", "values": [0.2,0.4], "ticks": false, "labelPadding": 8, "format": "~g", "title": "[Mg/Fe]", "titlePadding": 8, "minExtent": 36, "maxExtent": 36}}}}
              ],
              "resolve": {"axis": {"x": "independent", "y": "independent"}}
            },
            {
              "width": 285, "height": 99,
              "layer": [
                {"data": {"name": "fits"}, "transform": [{"filter": "datum.p=='MgFe'&&datum.s=='R'&&datum.g=='H'"}],
                 "mark": {"type": "line", "color": "#555", "strokeWidth": 1, "strokeDash": [9, 5], "interpolate": "monotone", "clip": true},
                 "encoding": {"x": {"field": "x", "type": "quantitative", "scale": {"domain": [0, 2.9], "nice": false}, "axis": null},
                              "y": {"field": "y", "type": "quantitative", "scale": {"domain": [0.15, 0.55], "nice": false}, "axis": {"orient": "left", "values": [0.15,0.2,0.25,0.3,0.35,0.4,0.45,0.5,0.55], "tickSize": -5, "labels": false, "title": null}}}},
                {"data": {"name": "fits"}, "transform": [{"filter": "datum.p=='MgFe'&&datum.s=='R'&&datum.g=='L'"}],
                 "mark": {"type": "line", "color": "#555", "strokeWidth": 1, "strokeDash": [8, 5], "interpolate": "monotone", "clip": true},
                 "encoding": {"x": {"field": "x", "type": "quantitative", "scale": {"domain": [0, 2.9], "nice": false}, "axis": null},
                              "y": {"field": "y", "type": "quantitative", "scale": {"domain": [0.15, 0.55], "nice": false}, "axis": {"orient": "right", "values": [0.15,0.2,0.25,0.3,0.35,0.4,0.45,0.5,0.55], "tickSize": -5, "labels": false, "title": null}}}},
                {"data": {"name": "pts"}, "transform": [{"filter": "datum.p=='MgFe'&&datum.s=='R'"}],
                 "mark": {"type": "rule", "color": "#808080", "strokeWidth": 1, "clip": true},
                 "encoding": {"x": {"field": "x", "type": "quantitative", "scale": {"domain": [0, 2.9], "nice": false}, "axis": {"orient": "top", "values": [0,0.5,1,1.5,2,2.5], "tickSize": -9, "labels": false, "title": null}},
                              "y": {"field": "lo", "type": "quantitative", "scale": {"domain": [0.15, 0.55], "nice": false}, "axis": {"orient": "right", "values": [0.2,0.4], "tickSize": -9, "labels": false, "title": null}},
                              "y2": {"field": "hi"}}},
                {"data": {"name": "pts"}, "transform": [{"filter": "datum.p=='MgFe'&&datum.s=='R'&&datum.g=='L'"}],
                 "mark": {"type": "square", "filled": false, "color": "#3ccbd2", "size": 42, "strokeWidth": 1.1, "opacity": 1, "clip": true},
                 "encoding": {"x": {"field": "x", "type": "quantitative", "scale": {"domain": [0, 2.9], "nice": false}, "axis": {"orient": "bottom", "values": [0,0.5,1,1.5,2,2.5], "tickSize": -9, "labels": false, "title": null}},
                              "y": {"field": "y", "type": "quantitative", "scale": {"domain": [0.15, 0.55], "nice": false}, "axis": {"orient": "left", "values": [0.2,0.4], "tickSize": -9, "labels": false, "title": null}}}},
                {"data": {"name": "pts"}, "transform": [{"filter": "datum.p=='MgFe'&&datum.s=='R'&&datum.g=='H'"}],
                 "mark": {"type": "circle", "fill": "#12802e", "stroke": "#1a1a1a", "strokeWidth": 0.8, "size": 100, "opacity": 1, "clip": true},
                 "encoding": {"x": {"field": "x", "type": "quantitative", "scale": {"domain": [0, 2.9], "nice": false}, "axis": null},
                              "y": {"field": "y", "type": "quantitative", "scale": {"domain": [0.15, 0.55], "nice": false}, "axis": null}}}
              ],
              "resolve": {"axis": {"x": "independent", "y": "independent"}}
            }
          ]
        }
      ]
    },
    {
      "spacing": 6,
      "vconcat": [
        {
          "spacing": 1.5,
          "vconcat": [
            {
              "spacing": 36,
              "hconcat": [
                {
                  "width": 270, "height": 99,
                  "layer": [
                    {"data": {"name": "fits"}, "transform": [{"filter": "datum.p=='CFe'&&datum.s=='L'&&datum.g=='H'"}],
                     "mark": {"type": "line", "color": "#555", "strokeWidth": 1, "strokeDash": [9, 5], "interpolate": "monotone", "clip": true},
                     "encoding": {"x": {"field": "x", "type": "quantitative", "scale": {"domain": [0, 15.1], "nice": false}, "axis": {"orient": "bottom", "values": [0,1,2,3,4,5,6,7,8,9,10,11,12,13,14,15], "tickSize": -5, "labels": false, "title": null}},
                                  "y": {"field": "y", "type": "quantitative", "scale": {"domain": [-0.2, 0.6], "nice": false}, "axis": {"orient": "left", "values": [-0.2,-0.1,0,0.1,0.2,0.3,0.4,0.5,0.6], "tickSize": -5, "labels": false, "title": null}}}},
                    {"data": {"name": "fits"}, "transform": [{"filter": "datum.p=='CFe'&&datum.s=='L'&&datum.g=='L'"}],
                     "mark": {"type": "line", "color": "#555", "strokeWidth": 1, "strokeDash": [1.5, 2.5], "interpolate": "monotone", "clip": true},
                     "encoding": {"x": {"field": "x", "type": "quantitative", "scale": {"domain": [0, 15.1], "nice": false}, "axis": {"orient": "top", "values": [0,1,2,3,4,5,6,7,8,9,10,11,12,13,14,15], "tickSize": -5, "labels": false, "title": null}},
                                  "y": {"field": "y", "type": "quantitative", "scale": {"domain": [-0.2, 0.6], "nice": false}, "axis": {"orient": "right", "values": [-0.2,-0.1,0,0.1,0.2,0.3,0.4,0.5,0.6], "tickSize": -5, "labels": false, "title": null}}}},
                    {"data": {"name": "pts"}, "transform": [{"filter": "datum.p=='CFe'&&datum.s=='L'"}],
                     "mark": {"type": "rule", "color": "#808080", "strokeWidth": 1, "clip": true},
                     "encoding": {"x": {"field": "x", "type": "quantitative", "scale": {"domain": [0, 15.1], "nice": false}, "axis": {"orient": "top", "values": [0,5,10,15], "tickSize": -9, "labels": false, "title": null}},
                                  "y": {"field": "lo", "type": "quantitative", "scale": {"domain": [-0.2, 0.6], "nice": false}, "axis": {"orient": "right", "values": [0,0.3,0.6], "tickSize": -9, "labels": false, "title": null}},
                                  "y2": {"field": "hi"}}},
                    {"data": {"name": "pts"}, "transform": [{"filter": "datum.p=='CFe'&&datum.s=='L'&&datum.g=='L'"}],
                     "mark": {"type": "square", "filled": false, "color": "#d58ddc", "size": 42, "strokeWidth": 1.1, "opacity": 1, "clip": true},
                     "encoding": {"x": {"field": "x", "type": "quantitative", "scale": {"domain": [0, 15.1], "nice": false}, "axis": {"orient": "bottom", "values": [0,5,10,15], "tickSize": -9, "labels": false, "title": null}},
                                  "y": {"field": "y", "type": "quantitative", "scale": {"domain": [-0.2, 0.6], "nice": false}, "axis": {"orient": "left", "values": [0,0.3,0.6], "tickSize": -9, "labels": false, "title": null}}}},
                    {"data": {"name": "pts"}, "transform": [{"filter": "datum.p=='CFe'&&datum.s=='L'&&datum.g=='H'"}],
                     "mark": {"type": "circle", "fill": "#7d0cc0", "stroke": "#1a1a1a", "strokeWidth": 0.8, "size": 100, "opacity": 1, "clip": true},
                     "encoding": {"x": {"field": "x", "type": "quantitative", "scale": {"domain": [0, 15.1], "nice": false}, "axis": null},
                                  "y": {"field": "y", "type": "quantitative", "scale": {"domain": [-0.2, 0.6], "nice": false}, "axis": {"orient": "left", "values": [0,0.3,0.6], "ticks": false, "labelPadding": 8, "format": "~g", "title": "[C/Fe]", "titlePadding": 8, "minExtent": 36, "maxExtent": 36}}}}
                  ],
                  "resolve": {"axis": {"x": "independent", "y": "independent"}}
                },
                {
                  "width": 285, "height": 99,
                  "layer": [
                    {"data": {"name": "fits"}, "transform": [{"filter": "datum.p=='CFe'&&datum.s=='R'&&datum.g=='H'"}],
                     "mark": {"type": "line", "color": "#555", "strokeWidth": 1, "strokeDash": [9, 5], "interpolate": "monotone", "clip": true},
                     "encoding": {"x": {"field": "x", "type": "quantitative", "scale": {"domain": [0, 2.9], "nice": false}, "axis": null},
                                  "y": {"field": "y", "type": "quantitative", "scale": {"domain": [-0.2, 0.6], "nice": false}, "axis": {"orient": "left", "values": [-0.2,-0.1,0,0.1,0.2,0.3,0.4,0.5,0.6], "tickSize": -5, "labels": false, "title": null}}}},
                    {"data": {"name": "fits"}, "transform": [{"filter": "datum.p=='CFe'&&datum.s=='R'&&datum.g=='L'"}],
                     "mark": {"type": "line", "color": "#555", "strokeWidth": 1, "strokeDash": [1.5, 2.5], "interpolate": "monotone", "clip": true},
                     "encoding": {"x": {"field": "x", "type": "quantitative", "scale": {"domain": [0, 2.9], "nice": false}, "axis": null},
                                  "y": {"field": "y", "type": "quantitative", "scale": {"domain": [-0.2, 0.6], "nice": false}, "axis": {"orient": "right", "values": [-0.2,-0.1,0,0.1,0.2,0.3,0.4,0.5,0.6], "tickSize": -5, "labels": false, "title": null}}}},
                    {"data": {"name": "pts"}, "transform": [{"filter": "datum.p=='CFe'&&datum.s=='R'"}],
                     "mark": {"type": "rule", "color": "#808080", "strokeWidth": 1, "clip": true},
                     "encoding": {"x": {"field": "x", "type": "quantitative", "scale": {"domain": [0, 2.9], "nice": false}, "axis": {"orient": "top", "values": [0,0.5,1,1.5,2,2.5], "tickSize": -9, "labels": false, "title": null}},
                                  "y": {"field": "lo", "type": "quantitative", "scale": {"domain": [-0.2, 0.6], "nice": false}, "axis": {"orient": "right", "values": [0,0.3,0.6], "tickSize": -9, "labels": false, "title": null}},
                                  "y2": {"field": "hi"}}},
                    {"data": {"name": "pts"}, "transform": [{"filter": "datum.p=='CFe'&&datum.s=='R'&&datum.g=='L'"}],
                     "mark": {"type": "square", "filled": false, "color": "#d58ddc", "size": 42, "strokeWidth": 1.1, "opacity": 1, "clip": true},
                     "encoding": {"x": {"field": "x", "type": "quantitative", "scale": {"domain": [0, 2.9], "nice": false}, "axis": {"orient": "bottom", "values": [0,0.5,1,1.5,2,2.5], "tickSize": -9, "labels": false, "title": null}},
                                  "y": {"field": "y", "type": "quantitative", "scale": {"domain": [-0.2, 0.6], "nice": false}, "axis": {"orient": "left", "values": [0,0.3,0.6], "tickSize": -9, "labels": false, "title": null}}}},
                    {"data": {"name": "pts"}, "transform": [{"filter": "datum.p=='CFe'&&datum.s=='R'&&datum.g=='H'"}],
                     "mark": {"type": "circle", "fill": "#7d0cc0", "stroke": "#1a1a1a", "strokeWidth": 0.8, "size": 100, "opacity": 1, "clip": true},
                     "encoding": {"x": {"field": "x", "type": "quantitative", "scale": {"domain": [0, 2.9], "nice": false}, "axis": null},
                                  "y": {"field": "y", "type": "quantitative", "scale": {"domain": [-0.2, 0.6], "nice": false}, "axis": null}}}
                  ],
                  "resolve": {"axis": {"x": "independent", "y": "independent"}}
                }
              ]
            },
            {
              "spacing": 36,
              "hconcat": [
                {
                  "width": 270, "height": 98,
                  "layer": [
                    {"data": {"name": "fits"}, "transform": [{"filter": "datum.p=='NFe'&&datum.s=='L'&&datum.g=='H'"}],
                     "mark": {"type": "line", "color": "#555", "strokeWidth": 1, "strokeDash": [9, 5], "interpolate": "monotone", "clip": true},
                     "encoding": {"x": {"field": "x", "type": "quantitative", "scale": {"domain": [0, 15.1], "nice": false}, "axis": {"orient": "bottom", "values": [0,1,2,3,4,5,6,7,8,9,10,11,12,13,14,15], "tickSize": -5, "labels": false, "title": null}},
                                  "y": {"field": "y", "type": "quantitative", "scale": {"domain": [0.32, 1.2], "nice": false}, "axis": {"orient": "left", "values": [0.4,0.5,0.6,0.7,0.8,0.9,1,1.1,1.2], "tickSize": -5, "labels": false, "title": null}}}},
                    {"data": {"name": "fits"}, "transform": [{"filter": "datum.p=='NFe'&&datum.s=='L'&&datum.g=='L'"}],
                     "mark": {"type": "line", "color": "#555", "strokeWidth": 1, "strokeDash": [1.5, 2.5], "interpolate": "monotone", "clip": true},
                     "encoding": {"x": {"field": "x", "type": "quantitative", "scale": {"domain": [0, 15.1], "nice": false}, "axis": {"orient": "top", "values": [0,1,2,3,4,5,6,7,8,9,10,11,12,13,14,15], "tickSize": -5, "labels": false, "title": null}},
                                  "y": {"field": "y", "type": "quantitative", "scale": {"domain": [0.32, 1.2], "nice": false}, "axis": {"orient": "right", "values": [0.4,0.5,0.6,0.7,0.8,0.9,1,1.1,1.2], "tickSize": -5, "labels": false, "title": null}}}},
                    {"data": {"name": "pts"}, "transform": [{"filter": "datum.p=='NFe'&&datum.s=='L'"}],
                     "mark": {"type": "rule", "color": "#808080", "strokeWidth": 1, "clip": true},
                     "encoding": {"x": {"field": "x", "type": "quantitative", "scale": {"domain": [0, 15.1], "nice": false}, "axis": {"orient": "top", "values": [0,5,10,15], "tickSize": -9, "labels": false, "title": null}},
                                  "y": {"field": "lo", "type": "quantitative", "scale": {"domain": [0.32, 1.2], "nice": false}, "axis": {"orient": "right", "values": [0.5,1], "tickSize": -9, "labels": false, "title": null}},
                                  "y2": {"field": "hi"}}},
                    {"data": {"name": "pts"}, "transform": [{"filter": "datum.p=='NFe'&&datum.s=='L'&&datum.g=='L'"}],
                     "mark": {"type": "square", "filled": false, "color": "#a2ead8", "size": 42, "strokeWidth": 1.1, "opacity": 1, "clip": true},
                     "encoding": {"x": {"field": "x", "type": "quantitative", "scale": {"domain": [0, 15.1], "nice": false}, "axis": {"orient": "bottom", "values": [0,5,10,15], "tickSize": -9, "labels": false, "title": null}},
                                  "y": {"field": "y", "type": "quantitative", "scale": {"domain": [0.32, 1.2], "nice": false}, "axis": {"orient": "left", "values": [0.5,1], "tickSize": -9, "labels": false, "title": null}}}},
                    {"data": {"name": "pts"}, "transform": [{"filter": "datum.p=='NFe'&&datum.s=='L'&&datum.g=='H'"}],
                     "mark": {"type": "circle", "fill": "#12b5b8", "stroke": "#1a1a1a", "strokeWidth": 0.8, "size": 100, "opacity": 1, "clip": true},
                     "encoding": {"x": {"field": "x", "type": "quantitative", "scale": {"domain": [0, 15.1], "nice": false}, "axis": null},
                                  "y": {"field": "y", "type": "quantitative", "scale": {"domain": [0.32, 1.2], "nice": false}, "axis": {"orient": "left", "values": [0.5,1], "ticks": false, "labelPadding": 8, "format": "~g", "title": "[N/Fe]", "titlePadding": 8, "minExtent": 36, "maxExtent": 36}}}}
                  ],
                  "resolve": {"axis": {"x": "independent", "y": "independent"}}
                },
                {
                  "width": 285, "height": 98,
                  "layer": [
                    {"data": {"name": "fits"}, "transform": [{"filter": "datum.p=='NFe'&&datum.s=='R'&&datum.g=='H'"}],
                     "mark": {"type": "line", "color": "#555", "strokeWidth": 1, "strokeDash": [9, 5], "interpolate": "monotone", "clip": true},
                     "encoding": {"x": {"field": "x", "type": "quantitative", "scale": {"domain": [0, 2.9], "nice": false}, "axis": null},
                                  "y": {"field": "y", "type": "quantitative", "scale": {"domain": [0.32, 1.2], "nice": false}, "axis": {"orient": "left", "values": [0.4,0.5,0.6,0.7,0.8,0.9,1,1.1,1.2], "tickSize": -5, "labels": false, "title": null}}}},
                    {"data": {"name": "fits"}, "transform": [{"filter": "datum.p=='NFe'&&datum.s=='R'&&datum.g=='L'"}],
                     "mark": {"type": "line", "color": "#555", "strokeWidth": 1, "strokeDash": [1.5, 2.5], "interpolate": "monotone", "clip": true},
                     "encoding": {"x": {"field": "x", "type": "quantitative", "scale": {"domain": [0, 2.9], "nice": false}, "axis": null},
                                  "y": {"field": "y", "type": "quantitative", "scale": {"domain": [0.32, 1.2], "nice": false}, "axis": {"orient": "right", "values": [0.4,0.5,0.6,0.7,0.8,0.9,1,1.1,1.2], "tickSize": -5, "labels": false, "title": null}}}},
                    {"data": {"name": "pts"}, "transform": [{"filter": "datum.p=='NFe'&&datum.s=='R'"}],
                     "mark": {"type": "rule", "color": "#808080", "strokeWidth": 1, "clip": true},
                     "encoding": {"x": {"field": "x", "type": "quantitative", "scale": {"domain": [0, 2.9], "nice": false}, "axis": {"orient": "top", "values": [0,0.5,1,1.5,2,2.5], "tickSize": -9, "labels": false, "title": null}},
                                  "y": {"field": "lo", "type": "quantitative", "scale": {"domain": [0.32, 1.2], "nice": false}, "axis": {"orient": "right", "values": [0.5,1], "tickSize": -9, "labels": false, "title": null}},
                                  "y2": {"field": "hi"}}},
                    {"data": {"name": "pts"}, "transform": [{"filter": "datum.p=='NFe'&&datum.s=='R'&&datum.g=='L'"}],
                     "mark": {"type": "square", "filled": false, "color": "#a2ead8", "size": 42, "strokeWidth": 1.1, "opacity": 1, "clip": true},
                     "encoding": {"x": {"field": "x", "type": "quantitative", "scale": {"domain": [0, 2.9], "nice": false}, "axis": {"orient": "bottom", "values": [0,0.5,1,1.5,2,2.5], "tickSize": -9, "labels": false, "title": null}},
                                  "y": {"field": "y", "type": "quantitative", "scale": {"domain": [0.32, 1.2], "nice": false}, "axis": {"orient": "left", "values": [0.5,1], "tickSize": -9, "labels": false, "title": null}}}},
                    {"data": {"name": "pts"}, "transform": [{"filter": "datum.p=='NFe'&&datum.s=='R'&&datum.g=='H'"}],
                     "mark": {"type": "circle", "fill": "#12b5b8", "stroke": "#1a1a1a", "strokeWidth": 0.8, "size": 100, "opacity": 1, "clip": true},
                     "encoding": {"x": {"field": "x", "type": "quantitative", "scale": {"domain": [0, 2.9], "nice": false}, "axis": null},
                                  "y": {"field": "y", "type": "quantitative", "scale": {"domain": [0.32, 1.2], "nice": false}, "axis": null}}}
                  ],
                  "resolve": {"axis": {"x": "independent", "y": "independent"}}
                }
              ]
            }
          ]
        },
        {
          "spacing": 28,
          "hconcat": [
            {
              "width": 270, "height": 98,
              "layer": [
                {"data": {"name": "fits"}, "transform": [{"filter": "datum.p=='CaFe'&&datum.s=='L'&&datum.g=='H'"}],
                 "mark": {"type": "line", "color": "#555", "strokeWidth": 1, "strokeDash": [9, 5], "interpolate": "monotone", "clip": true},
                 "encoding": {"x": {"field": "x", "type": "quantitative", "scale": {"domain": [0, 15.1], "nice": false}, "axis": {"orient": "bottom", "values": [0,1,2,3,4,5,6,7,8,9,10,11,12,13,14,15], "tickSize": -5, "labels": false, "title": null}},
                              "y": {"field": "y", "type": "quantitative", "scale": {"domain": [-0.1, 0.25], "nice": false}, "axis": {"orient": "left", "values": [-0.1,-0.05,0,0.05,0.1,0.15,0.2,0.25], "tickSize": -5, "labels": false, "title": null}}}},
                {"data": {"name": "fits"}, "transform": [{"filter": "datum.p=='CaFe'&&datum.s=='L'&&datum.g=='L'"}],
                 "mark": {"type": "line", "color": "#555", "strokeWidth": 1, "strokeDash": [1.5, 2.5], "interpolate": "monotone", "clip": true},
                 "encoding": {"x": {"field": "x", "type": "quantitative", "scale": {"domain": [0, 15.1], "nice": false}, "axis": {"orient": "top", "values": [0,1,2,3,4,5,6,7,8,9,10,11,12,13,14,15], "tickSize": -5, "labels": false, "title": null}},
                              "y": {"field": "y", "type": "quantitative", "scale": {"domain": [-0.1, 0.25], "nice": false}, "axis": {"orient": "right", "values": [-0.1,-0.05,0,0.05,0.1,0.15,0.2,0.25], "tickSize": -5, "labels": false, "title": null}}}},
                {"data": {"name": "pts"}, "transform": [{"filter": "datum.p=='CaFe'&&datum.s=='L'"}],
                 "mark": {"type": "rule", "color": "#808080", "strokeWidth": 1, "clip": true},
                 "encoding": {"x": {"field": "x", "type": "quantitative", "scale": {"domain": [0, 15.1], "nice": false}, "axis": {"orient": "top", "values": [0,5,10,15], "tickSize": -9, "labels": false, "title": null}},
                              "y": {"field": "lo", "type": "quantitative", "scale": {"domain": [-0.1, 0.25], "nice": false}, "axis": {"orient": "right", "values": [0,0.2], "tickSize": -9, "labels": false, "title": null}},
                              "y2": {"field": "hi"}}},
                {"data": {"name": "pts"}, "transform": [{"filter": "datum.p=='CaFe'&&datum.s=='L'&&datum.g=='L'"}],
                 "mark": {"type": "square", "filled": false, "color": "#dfe08e", "size": 42, "strokeWidth": 1.1, "opacity": 1, "clip": true},
                 "encoding": {"x": {"field": "x", "type": "quantitative", "scale": {"domain": [0, 15.1], "nice": false}, "axis": {"orient": "bottom", "values": [0,5,10,15], "tickSize": -9, "labels": false, "title": null}},
                              "y": {"field": "y", "type": "quantitative", "scale": {"domain": [-0.1, 0.25], "nice": false}, "axis": {"orient": "left", "values": [0,0.2], "tickSize": -9, "labels": false, "title": null}}}},
                {"data": {"name": "pts"}, "transform": [{"filter": "datum.p=='CaFe'&&datum.s=='L'&&datum.g=='H'"}],
                 "mark": {"type": "circle", "fill": "#ee6a42", "stroke": "#1a1a1a", "strokeWidth": 0.8, "size": 100, "opacity": 1, "clip": true},
                 "encoding": {"x": {"field": "x", "type": "quantitative", "scale": {"domain": [0, 15.1], "nice": false}, "axis": {"orient": "bottom", "values": [0,5,10,15], "ticks": false, "labelPadding": 8, "format": "~g", "title": "Radius (kpc)", "titlePadding": 3}},
                              "y": {"field": "y", "type": "quantitative", "scale": {"domain": [-0.1, 0.25], "nice": false}, "axis": {"orient": "left", "values": [0,0.2], "ticks": false, "labelPadding": 8, "format": "~g", "title": "[Ca/Fe]", "titlePadding": 8, "minExtent": 36, "maxExtent": 36}}}}
              ],
              "resolve": {"axis": {"x": "independent", "y": "independent"}}
            },
            {
              "width": 285, "height": 98,
              "layer": [
                {"data": {"name": "fits"}, "transform": [{"filter": "datum.p=='CaFe'&&datum.s=='R'&&datum.g=='H'"}],
                 "mark": {"type": "line", "color": "#555", "strokeWidth": 1, "strokeDash": [9, 5], "interpolate": "monotone", "clip": true},
                 "encoding": {"x": {"field": "x", "type": "quantitative", "scale": {"domain": [0, 2.9], "nice": false}, "axis": null},
                              "y": {"field": "y", "type": "quantitative", "scale": {"domain": [-0.1, 0.25], "nice": false}, "axis": {"orient": "left", "values": [-0.1,-0.05,0,0.05,0.1,0.15,0.2,0.25], "tickSize": -5, "labels": false, "title": null}}}},
                {"data": {"name": "fits"}, "transform": [{"filter": "datum.p=='CaFe'&&datum.s=='R'&&datum.g=='L'"}],
                 "mark": {"type": "line", "color": "#555", "strokeWidth": 1, "strokeDash": [1.5, 2.5], "interpolate": "monotone", "clip": true},
                 "encoding": {"x": {"field": "x", "type": "quantitative", "scale": {"domain": [0, 2.9], "nice": false}, "axis": null},
                              "y": {"field": "y", "type": "quantitative", "scale": {"domain": [-0.1, 0.25], "nice": false}, "axis": {"orient": "right", "values": [-0.1,-0.05,0,0.05,0.1,0.15,0.2,0.25], "tickSize": -5, "labels": false, "title": null}}}},
                {"data": {"name": "pts"}, "transform": [{"filter": "datum.p=='CaFe'&&datum.s=='R'"}],
                 "mark": {"type": "rule", "color": "#808080", "strokeWidth": 1, "clip": true},
                 "encoding": {"x": {"field": "x", "type": "quantitative", "scale": {"domain": [0, 2.9], "nice": false}, "axis": {"orient": "top", "values": [0,0.5,1,1.5,2,2.5], "tickSize": -9, "labels": false, "title": null}},
                              "y": {"field": "lo", "type": "quantitative", "scale": {"domain": [-0.1, 0.25], "nice": false}, "axis": {"orient": "right", "values": [0,0.2], "tickSize": -9, "labels": false, "title": null}},
                              "y2": {"field": "hi"}}},
                {"data": {"name": "pts"}, "transform": [{"filter": "datum.p=='CaFe'&&datum.s=='R'&&datum.g=='L'"}],
                 "mark": {"type": "square", "filled": false, "color": "#dfe08e", "size": 42, "strokeWidth": 1.1, "opacity": 1, "clip": true},
                 "encoding": {"x": {"field": "x", "type": "quantitative", "scale": {"domain": [0, 2.9], "nice": false}, "axis": {"orient": "bottom", "values": [0,0.5,1,1.5,2,2.5], "tickSize": -9, "labels": false, "title": null}},
                              "y": {"field": "y", "type": "quantitative", "scale": {"domain": [-0.1, 0.25], "nice": false}, "axis": {"orient": "left", "values": [0,0.2], "tickSize": -9, "labels": false, "title": null}}}},
                {"data": {"name": "pts"}, "transform": [{"filter": "datum.p=='CaFe'&&datum.s=='R'&&datum.g=='H'"}],
                 "mark": {"type": "circle", "fill": "#ee6a42", "stroke": "#1a1a1a", "strokeWidth": 0.8, "size": 100, "opacity": 1, "clip": true},
                 "encoding": {"x": {"field": "x", "type": "quantitative", "scale": {"domain": [0, 2.9], "nice": false}, "axis": {"orient": "bottom", "values": [0,1,2], "ticks": false, "labelPadding": 8, "format": "~g", "title": "Radius (Rₑ)", "titlePadding": 3}},
                              "y": {"field": "y", "type": "quantitative", "scale": {"domain": [-0.1, 0.25], "nice": false}, "axis": null}}}
              ],
              "resolve": {"axis": {"x": "independent", "y": "independent"}}
            }
          ]
        }
      ]
    }
  ]
}
